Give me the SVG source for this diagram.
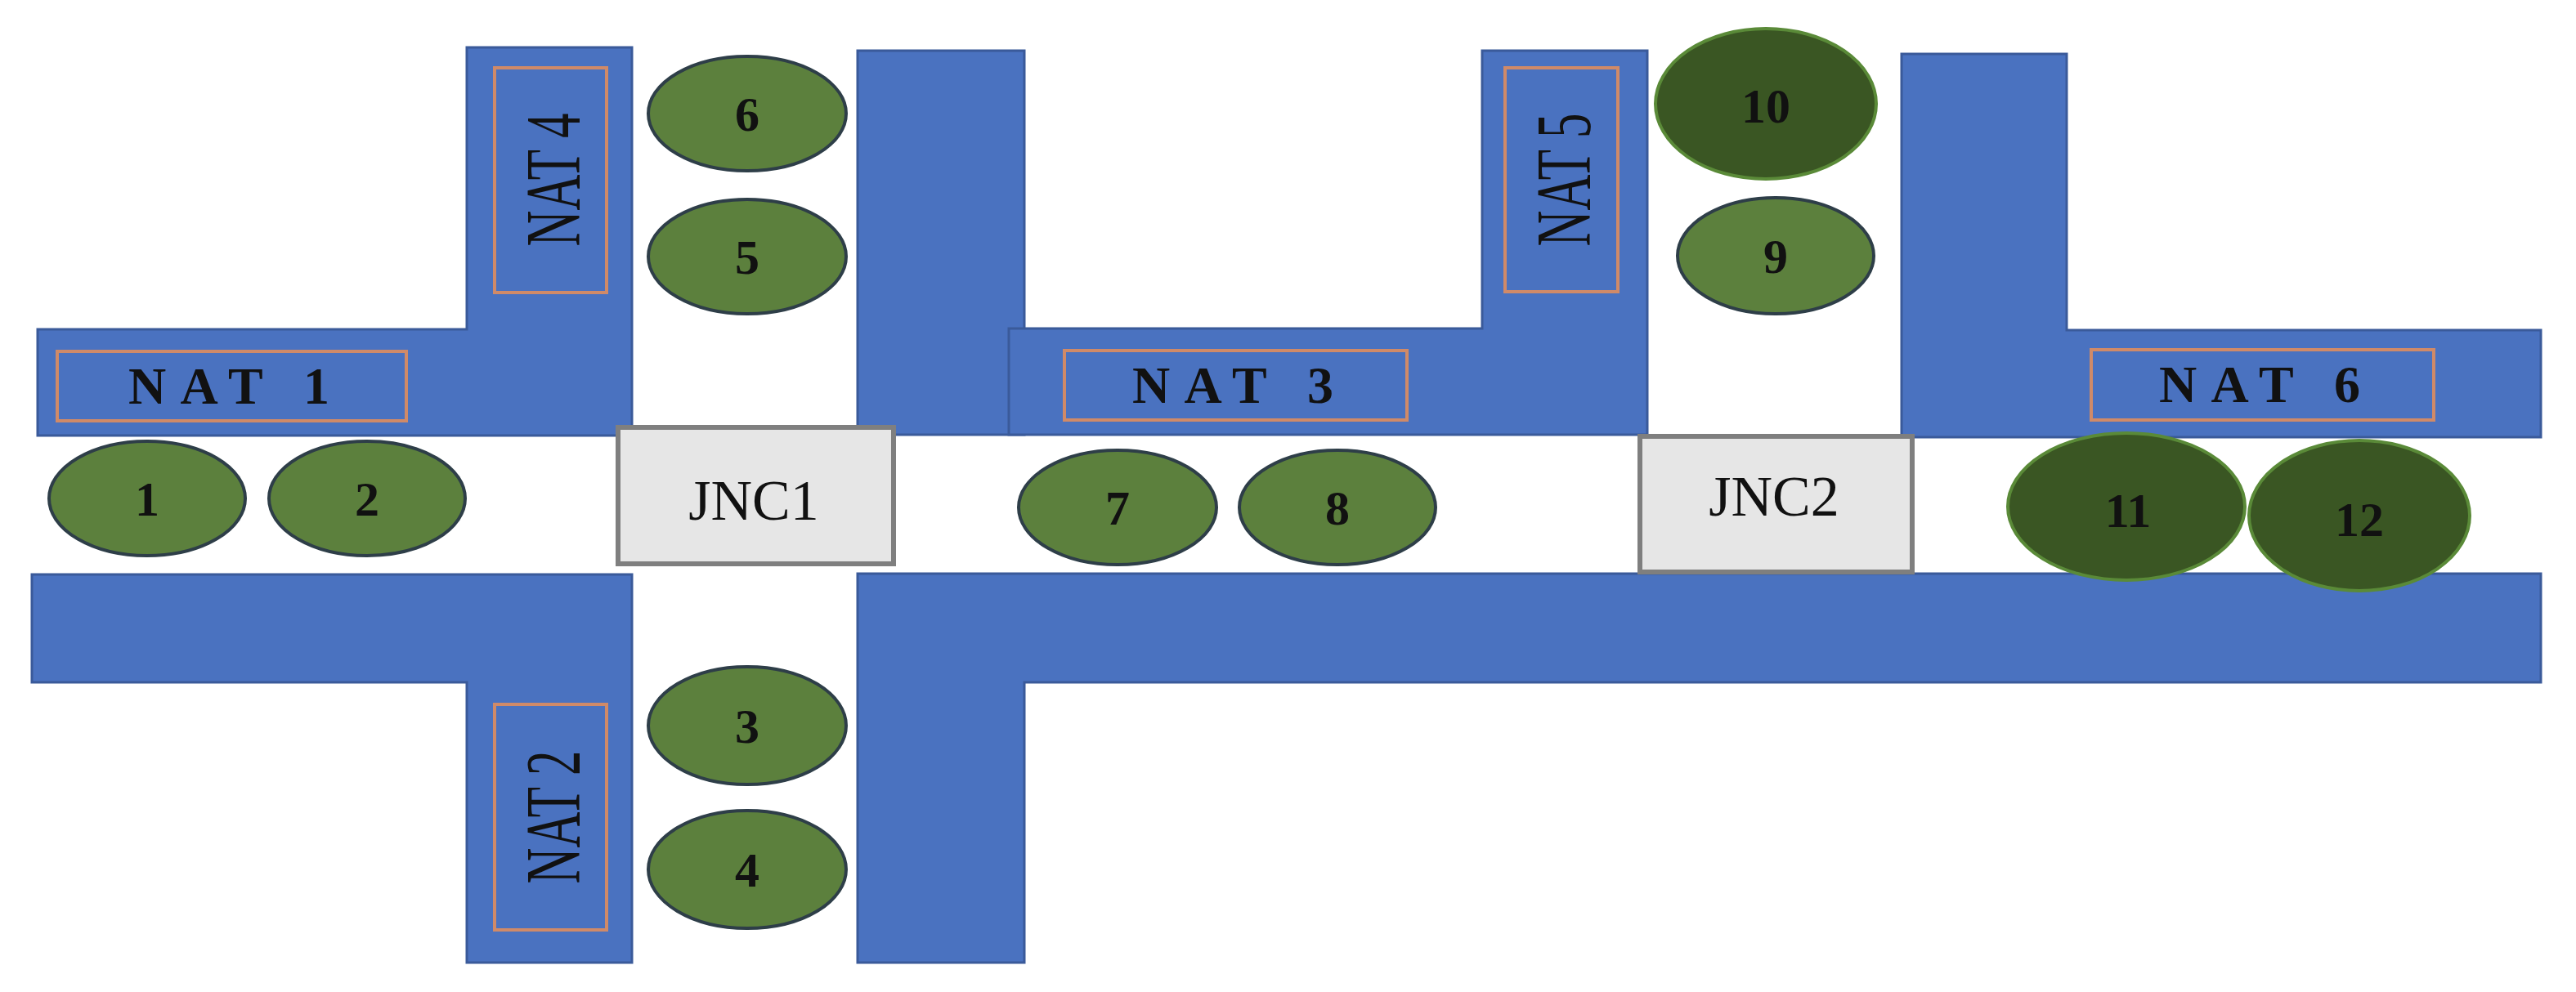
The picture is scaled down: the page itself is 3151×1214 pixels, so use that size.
<svg xmlns="http://www.w3.org/2000/svg" width="3151" height="1214" viewBox="0 0 3151 1214">
<style>
.road{fill:#4a72c0;stroke:#3a5a9a;stroke-width:3}
.lab{fill:none;stroke:#d08a68;stroke-width:4}
.car{fill:#5c803d;stroke:#2e3e48;stroke-width:4}
.big{fill:#3a5623;stroke:#5a8a38;stroke-width:4}
.jnc{fill:#e6e6e6;stroke:#7f7f7f;stroke-width:6}
.num{font-family:"Liberation Serif",serif;font-weight:bold;font-size:60px;text-anchor:middle;fill:#111}
.nat{font-family:"Liberation Serif",serif;font-weight:bold;font-size:64px;text-anchor:middle;fill:#111}
.natv{font-family:"Liberation Serif",serif;font-size:96px;text-anchor:middle;fill:#111}
.jt{font-family:"Liberation Serif",serif;font-size:70px;text-anchor:middle;fill:#111}
</style>
<rect width="3151" height="1214" fill="#fff"/>
<g id="roads">
<path class="road" d="M46,403H571V58H773V533H46Z"/>
<path class="road" d="M39,703H773V1178H571V835H39Z"/>
<rect class="road" x="1049" y="62" width="204" height="470"/>
<path class="road" d="M1234,402H1813V62H2015V532H1234Z"/>
<path class="road" d="M1049,702H3108V835H1253V1178H1049Z"/>
<path class="road" d="M2326,66H2528V404H3108V535H2326Z"/>
</g>
<g id="nat1"><rect class="lab" x="70" y="430" width="427" height="85"/><text class="nat" x="280" y="494" textLength="246" lengthAdjust="spacing">NAT 1</text></g>
<g id="nat3"><rect class="lab" x="1302" y="429" width="419" height="85"/><text class="nat" x="1508" y="493" textLength="246" lengthAdjust="spacing">NAT 3</text></g>
<g id="nat6"><rect class="lab" x="2558" y="428" width="419" height="86"/><text class="nat" x="2764" y="492" textLength="246" lengthAdjust="spacing">NAT 6</text></g>
<g id="nat4"><rect class="lab" x="605" y="83" width="137" height="275"/><text class="natv" transform="translate(709,220) rotate(-90)" x="0" y="0" textLength="163" lengthAdjust="spacingAndGlyphs">NAT 4</text></g>
<g id="nat2"><rect class="lab" x="605" y="862" width="137" height="276"/><text class="natv" transform="translate(709,1000) rotate(-90)" x="0" y="0" textLength="163" lengthAdjust="spacingAndGlyphs">NAT 2</text></g>
<g id="nat5"><rect class="lab" x="1841" y="83" width="138" height="274"/><text class="natv" transform="translate(945,220) rotate(-90)" x="0" y="0" textLength="163" lengthAdjust="spacingAndGlyphs" style="display:none">NAT 5</text><text class="natv" transform="translate(1945,220) rotate(-90)" x="0" y="0" textLength="163" lengthAdjust="spacingAndGlyphs">NAT 5</text></g>
<g id="jnc1"><rect class="jnc" x="756" y="523" width="337" height="167"/><text class="jt" x="922" y="636">JNC1</text></g>
<g id="jnc2"><rect class="jnc" x="2006" y="534" width="333" height="166"/><text class="jt" x="2170" y="631">JNC2</text></g>
<g id="c1"><ellipse class="car" cx="180" cy="610" rx="120" ry="70"/><text class="num" x="180" y="631">1</text></g>
<g id="c2"><ellipse class="car" cx="449" cy="610" rx="120" ry="70"/><text class="num" x="449" y="631">2</text></g>
<g id="c3"><ellipse class="car" cx="914" cy="888" rx="121" ry="72"/><text class="num" x="914" y="909">3</text></g>
<g id="c4"><ellipse class="car" cx="914" cy="1064" rx="121" ry="72"/><text class="num" x="914" y="1085">4</text></g>
<g id="c5"><ellipse class="car" cx="914" cy="314" rx="121" ry="70"/><text class="num" x="914" y="335">5</text></g>
<g id="c6"><ellipse class="car" cx="914" cy="139" rx="121" ry="70"/><text class="num" x="914" y="160">6</text></g>
<g id="c7"><ellipse class="car" cx="1367" cy="621" rx="121" ry="70"/><text class="num" x="1367" y="642">7</text></g>
<g id="c8"><ellipse class="car" cx="1636" cy="621" rx="120" ry="70"/><text class="num" x="1636" y="642">8</text></g>
<g id="c9"><ellipse class="car" cx="2172" cy="313" rx="120" ry="71"/><text class="num" x="2172" y="334">9</text></g>
<g id="c10"><ellipse class="big" cx="2160" cy="127" rx="135" ry="92"/><text class="num" x="2160" y="150">10</text></g>
<g id="c11"><ellipse class="big" cx="2601" cy="620" rx="145" ry="90"/><text class="num" x="2603" y="645">11</text></g>
<g id="c12"><ellipse class="big" cx="2886" cy="631" rx="135" ry="92"/><text class="num" x="2886" y="656">12</text></g>
<g id="connectors"></g>
</svg>
